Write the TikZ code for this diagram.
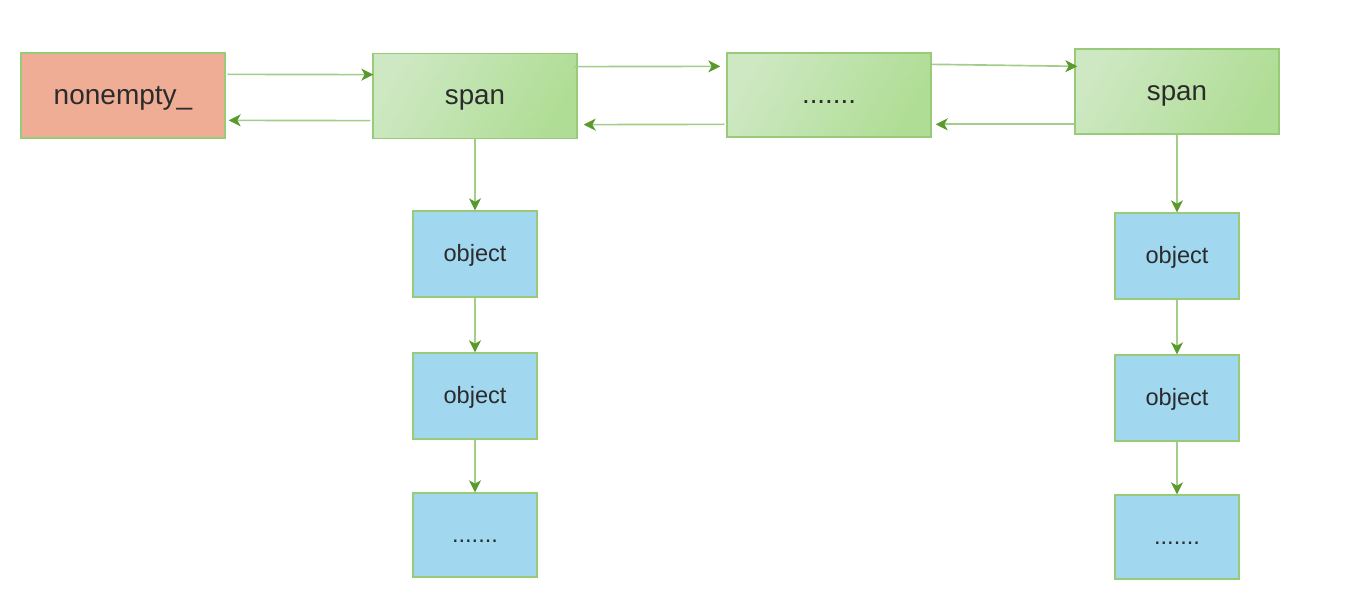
\documentclass[tikz,border=0pt]{standalone}
\usepackage{fontspec}
\setmainfont{Liberation Sans}
\usetikzlibrary{arrows.meta}
\definecolor{edgegreen}{HTML}{97CB77}
\definecolor{linkgreen}{HTML}{A3CE89}
\definecolor{tipgreen}{HTML}{5A9A2C}
\definecolor{salmon}{HTML}{EFAD95}
\definecolor{spanlight}{HTML}{CDE8C2}
\definecolor{spandark}{HTML}{B0DD95}
\definecolor{objblue}{HTML}{A1D8EF}
\definecolor{txt}{HTML}{2B2B2B}
\tikzset{
  box/.style={draw=edgegreen, line width=1pt, inner sep=0pt, text=txt, text depth=0pt},
  headbox/.style={box, fill=salmon, minimum width=153pt, minimum height=63.75pt,
    font=\fontsize{21}{25}\selectfont, text height=14pt},
  spanbox/.style={box, top color=spanlight, bottom color=spandark, shading angle=60,
    minimum width=153pt, minimum height=64pt, font=\fontsize{20.8}{25}\selectfont, text height=13.5pt},
  objbox/.style={box, fill=objblue, minimum width=93pt, minimum height=64.5pt,
    font=\fontsize{17.7}{21}\selectfont, text height=11pt},
  link/.style={draw=linkgreen, line width=1.25pt,
    -{Stealth[length=9pt, width=9pt, inset=2.5pt, color=tipgreen]}}
}
\begin{document}
\begin{tikzpicture}[x=0.75pt, y=-0.75pt]
\useasboundingbox (0,0) rectangle (1352,602);
\fill[white] (0,0) rectangle (1352,602);

% list head and spans
\node[headbox] (ne) at (123,95.5) {nonempty\_};
\node[spanbox] (s1) at (475,96) {span};
\node[spanbox, minimum height=63pt] (sd) at (829,95) {.......};
\node[spanbox, minimum height=63.75pt] (s2) at (1177,91.5) {span};

% objects under the first span
\node[objbox] (l1) at (475,254) {object};
\node[objbox] (l2) at (475,396) {object};
\node[objbox, minimum height=63pt] (l3) at (475,535) {.......};

% objects under the last span
\node[objbox] (r1) at (1177,256) {object};
\node[objbox] (r2) at (1177,398) {object};
\node[objbox, minimum height=63pt] (r3) at (1177,537) {.......};

% doubly linked span list
\draw[link] ([shift={(2,22)}]ne.north east) -- ([shift={(1,22)}]s1.north west);
\draw[link] ([shift={(-2,68)}]s1.north west) -- ([shift={(3,68)}]ne.north east);
\draw[link] ([shift={(-4,14)}]s1.north east) -- ([shift={(-6,14)}]sd.north west);
\draw[link] ([shift={(-2,72)}]sd.north west) -- ([shift={(6,72)}]s1.north east);
\draw[link] ([shift={(0,12)}]sd.north east) -- ([shift={(3,18)}]s2.north west);
\draw[link] ([shift={(0,76)}]s2.north west) -- ([shift={(4,72)}]sd.north east);

% object chains
\draw[link] (s1.south) -- (l1.north);
\draw[link] (l1.south) -- (l2.north);
\draw[link] (l2.south) -- (l3.north);
\draw[link] (s2.south) -- (r1.north);
\draw[link] (r1.south) -- (r2.north);
\draw[link] (r2.south) -- (r3.north);
\end{tikzpicture}
\end{document}
